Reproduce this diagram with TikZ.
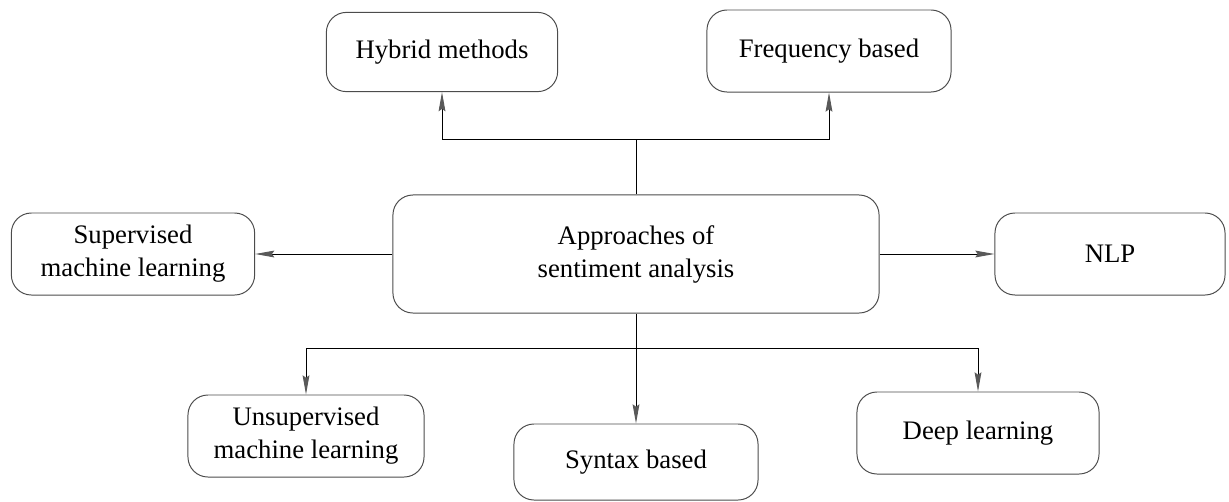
\documentclass[tikz,border=0pt]{standalone}
\usepackage{fontspec}
\setmainfont{Liberation Serif}
\usepackage{tikz}
\usetikzlibrary{arrows.meta}

\begin{document}
\begin{tikzpicture}[x=0.025cm,y=-0.025cm,line width=0.7pt,
  >={Stealth[length=0.48cm,width=0.17cm,inset=0.06cm,color=black!65]},
  box/.style={draw=black!70,rounded corners=0.5cm,inner sep=0pt,align=center,
    font=\fontsize{19}{23.5}\selectfont}]
\useasboundingbox (0,0) rectangle (1229,501);
\node[box,minimum width=12.15cm,minimum height=2.95cm] (appr) at (636,254) {Approaches of\\sentiment analysis};
\node[box,minimum width=5.78cm,minimum height=1.98cm] (hybrid) at (442,52) {Hybrid methods};
\node[box,minimum width=6.1cm,minimum height=2.05cm] (freq) at (829,51) {Frequency based};
\node[box,minimum width=6.08cm,minimum height=2.05cm] (sup) at (133,254) {Supervised\\machine learning};
\node[box,minimum width=5.75cm,minimum height=2.05cm] (nlp) at (1110,254) {NLP};
\node[box,minimum width=5.9cm,minimum height=2.05cm] (unsup) at (306,436) {Unsupervised\\machine learning};
\node[box,minimum width=6.1cm,minimum height=1.9cm] (syntax) at (636,462) {Syntax based};
\node[box,minimum width=6.05cm,minimum height=2.05cm] (deep) at (978,433) {Deep learning};
% joints
\coordinate (topj) at ([yshift=1.375cm]appr.north);
\coordinate (botj) at ([yshift=-0.875cm]appr.south);
\draw (appr.north) -- (topj);
\draw[->] (topj) -| (hybrid.south);
\draw[->] (topj) -| (freq.south);
\draw[->] (appr.west) -- (sup.east);
\draw[->] (appr.east) -- (nlp.west);
\draw[->] (appr.south) -- (syntax.north);
\draw[->] (botj) -| (unsup.north);
\draw[->] (botj) -| (deep.north);
\end{tikzpicture}
\end{document}
